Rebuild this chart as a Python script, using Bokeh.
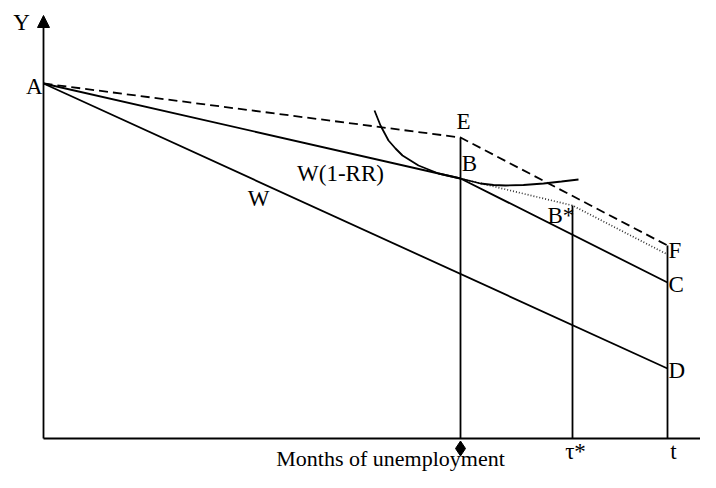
from bokeh.plotting import figure
from bokeh.models import Arrow, NormalHead, Range1d
from bokeh.core.properties import value
from bokeh.embed import file_html
from bokeh.resources import INLINE

# ---- data (months on x, income Y on y) ----
t_B = 417      # time of point B (marked by the diamond)
t_star = 529   # tau*
t_end = 624    # t
A_y = 355
E_y = 301
B_y = 260
Bstar_y = 233
F_y = 193
Fdot_y = 184
C_y = 156
D_y = 70
y_top = 423

# indifference curve
curve_x = [331, 337, 345, 352, 359, 367, 375, 385, 395, 406, 417, 427, 437, 450, 462, 480, 500, 518, 535]
curve_y = [328, 313, 298, 290, 283, 278, 273, 269, 265, 262.5, 260, 257.5, 255, 253.5, 253, 253.5, 255, 257, 259]

FONT = value("Liberation Serif")
FS = "23px"

p = figure(width=700, height=472, output_backend="svg", toolbar_location=None,
           x_range=Range1d(-43, 657), y_range=Range1d(-34, 438), min_border=0)
p.axis.visible = False
p.grid.visible = False
p.outline_line_color = None
p.background_fill_color = "white"

LW = 1.8
# axes
p.line([0, 700], [0, 0], line_color="black", line_width=LW)
p.add_layout(Arrow(end=NormalHead(size=12, fill_color="black", line_color="black"),
                   x_start=0, y_start=0, x_end=0, y_end=y_top,
                   line_color="black", line_width=LW))

# W line A -> D
p.line([0, t_end], [A_y, D_y], line_color="black", line_width=LW)
# W(1-RR) line A -> B -> C
p.line([0, t_B, t_end], [A_y, B_y, C_y], line_color="black", line_width=LW)
# dashed A -> E -> F
p.line([0, t_B, t_end], [A_y, E_y, F_y], line_color="black", line_width=LW, line_dash="9 5")
# dotted B -> B* -> F
p.line([t_B, t_star, t_end], [B_y, Bstar_y, Fdot_y], line_color="#333333", line_width=1.7, line_dash="1 2")
# verticals
p.segment(x0=[t_B, t_star, t_end], y0=[0, 0, 0], x1=[t_B, t_star, t_end], y1=[E_y, Bstar_y, F_y],
          line_color="black", line_width=LW)
# indifference curve
p.line(curve_x, curve_y, line_color="black", line_width=LW)

# diamond marker under B
p.scatter([t_B], [-10], marker="diamond", size=15, fill_color="black", line_color="black")

def lab(x, y, s, xo=0, yo=0, align="center", size=FS, baseline="middle"):
    p.text([x], [y], text=[s], x_offset=xo, y_offset=yo, text_font=FONT, text_font_size=size,
           text_align=align, text_baseline=baseline, text_color="black")

lab(0, y_top, "Y", -22, 7)
lab(0, A_y, "A", -1, 3, "right")
lab(t_B, E_y, "E", 3, -16)
lab(t_B, B_y, "B", 9, -15)
lab(t_star, Bstar_y, "B*", -25, 10, "left")
lab(t_end, F_y, "F", 1, 5, "left")
lab(t_end, C_y, "C", 1, 2, "left")
lab(t_end, D_y, "D", 1, 2, "left")
lab(t_star, 0, "τ*", 3, 13)
lab(t_end, 0, "t", 6, 13)
lab(297, 265, "W(1-RR)")
lab(215, 240, "W")
lab(347, -32, "Months of unemployment", size="22px", baseline="bottom")

open("out.html", "w").write(file_html(p, INLINE))
